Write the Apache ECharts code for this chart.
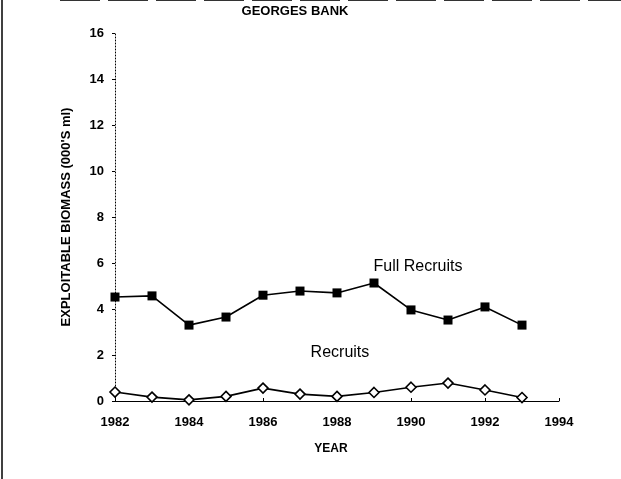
<!DOCTYPE html>
<html>
<head>
<meta charset="utf-8">
<script src="https://cdn.jsdelivr.net/npm/echarts@6/dist/echarts.min.js"></script>
<style>html,body{margin:0;padding:0;background:#fff;}#c{width:621px;height:479px;}</style>
</head>
<body>
<div id="c"></div>
<script>
var years = [1982,1983,1984,1985,1986,1987,1988,1989,1990,1991,1992,1993];
var fullRecruits = [4.52,4.57,3.30,3.65,4.60,4.78,4.70,5.13,3.96,3.52,4.09,3.30];
var recruits = [0.39,0.17,0.05,0.20,0.56,0.30,0.20,0.37,0.60,0.78,0.48,0.15];
var xTicks = [1982,1984,1986,1988,1990,1992,1994];
var yTicks = [0,2,4,6,8,10,12,14,16];
var seriesLabels = ['Full Recruits', 'Recruits'];

function pairs(vals){ return years.map(function(y,i){ return [y, vals[i]]; }); }

var chart = echarts.init(document.getElementById('c'));
var font = 'Liberation Sans, Arial, sans-serif';
function annot(text, x, y){
  return {
    symbol: 'circle', symbolSize: 1, silent: true,
    itemStyle: {color: 'rgba(0,0,0,0)'},
    label: {show: true, position: 'inside', formatter: text, fontFamily: font, fontSize: 16, color: '#000'},
    data: [{coord: [x, y]}]
  };
}
chart.setOption({
  animation: false,
  backgroundColor: '#fff',
  title: {
    text: 'GEORGES BANK', left: 290, top: 0, textAlign: 'center',
    textStyle: {fontFamily: font, fontSize: 13, fontWeight: 'bold', color: '#000'}
  },
  grid: {left: 115, right: 62, top: 33, bottom: 78},
  xAxis: {
    type: 'value', min: 1982, max: 1994, interval: 2,
    name: 'YEAR', nameLocation: 'middle', nameGap: 42,
    nameTextStyle: {fontFamily: font, fontSize: 12, fontWeight: 'bold', color: '#000', padding: [0, 12, 0, 0]},
    axisLine: {lineStyle: {color: '#000', width: 1}},
    axisTick: {show: true, inside: true, length: 3, lineStyle: {color: '#000'}},
    axisLabel: {fontFamily: font, fontSize: 13, fontWeight: 'bold', color: '#000', margin: 15,
      formatter: function(v){ return xTicks.indexOf(v) >= 0 ? String(v) : ''; }},
    splitLine: {show: false}
  },
  yAxis: {
    type: 'value', min: 0, max: 16, interval: 2,
    name: "EXPLOITABLE BIOMASS (000'S ml)", nameLocation: 'middle', nameGap: 42, nameRotate: 90,
    nameTextStyle: {fontFamily: font, fontSize: 13, fontWeight: 'bold', color: '#000'},
    axisLine: {show: true, lineStyle: {color: '#000', width: 1, type: [1, 2]}},
    axisTick: {show: true, length: 3, lineStyle: {color: '#000'}},
    axisLabel: {fontFamily: font, fontSize: 13, fontWeight: 'bold', color: '#000', margin: 11,
      formatter: function(v){ return yTicks.indexOf(v) >= 0 ? String(v) : ''; }},
    splitLine: {show: false}
  },
  series: [
    {
      name: seriesLabels[0], type: 'line', data: pairs(fullRecruits),
      symbol: 'rect', symbolSize: 9,
      lineStyle: {color: '#000', width: 1.6},
      itemStyle: {color: '#000'},
      markPoint: annot(seriesLabels[0], 1990.19, 5.83)
    },
    {
      name: seriesLabels[1], type: 'line', data: pairs(recruits),
      symbol: 'diamond', symbolSize: 10,
      lineStyle: {color: '#000', width: 1.6},
      itemStyle: {color: '#fff', borderColor: '#000', borderWidth: 1.6},
      markPoint: annot(seriesLabels[1], 1988.08, 2.09)
    }
  ],
  graphic: [
    {type: 'line', shape: {x1: 2, y1: 0, x2: 2, y2: 479}, style: {stroke: '#000', lineWidth: 1.5}},
    {type: 'line', shape: {x1: 60, y1: 0.5, x2: 621, y2: 0.5}, style: {stroke: '#333', lineWidth: 1, lineDash: [40, 8]}}
  ]
});
</script>
</body>
</html>
